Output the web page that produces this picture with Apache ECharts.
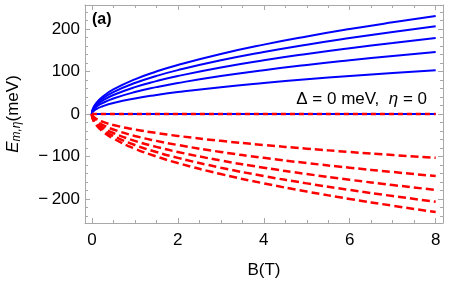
<!DOCTYPE html>
<html><head><meta charset="utf-8">
<script src="https://cdn.jsdelivr.net/npm/echarts@6/dist/echarts.min.js"></script>
<style>html,body{margin:0;padding:0;background:#fff}#c{width:450px;height:284px}</style>
</head><body><div id="c"></div>
<script>
// Data
const B = [0, 0.02, 0.1, 0.25, 0.5, 1, 1.5, 2, 3, 4, 5, 6, 7, 8];
const E1 = [0, 5, 11.5, 18.2, 25.8, 36.4, 44.6, 51.5, 63.1, 72.8, 81.4, 89.2, 96.3, 103];
const E2 = [0, 7.3, 16.3, 25.7, 36.4, 51.5, 63.1, 72.8, 89.2, 103, 115.2, 126.1, 136.2, 145.7];
const E3 = [0, 8.9, 19.9, 31.5, 44.6, 63.1, 77.2, 89.2, 109.2, 126.1, 141, 154.5, 166.8, 178.4];
const E4 = [0, 10.3, 23, 36.4, 51.5, 72.8, 89.2, 103, 126.1, 145.7, 162.9, 178.4, 192.7, 206];
const E5 = [0, 11.5, 25.7, 40.7, 57.6, 81.4, 99.7, 115.2, 141, 162.9, 182.1, 199.5, 215.4, 230.3];
const negE1 = [0, -5, -11.5, -18.2, -25.8, -36.4, -44.6, -51.5, -63.1, -72.8, -81.4, -89.2, -96.3, -103];
const negE2 = [0, -7.3, -16.3, -25.7, -36.4, -51.5, -63.1, -72.8, -89.2, -103, -115.2, -126.1, -136.2, -145.7];
const negE3 = [0, -8.9, -19.9, -31.5, -44.6, -63.1, -77.2, -89.2, -109.2, -126.1, -141, -154.5, -166.8, -178.4];
const negE4 = [0, -10.3, -23, -36.4, -51.5, -72.8, -89.2, -103, -126.1, -145.7, -162.9, -178.4, -192.7, -206];
const negE5 = [0, -11.5, -25.7, -40.7, -57.6, -81.4, -99.7, -115.2, -141, -162.9, -182.1, -199.5, -215.4, -230.3];
const zeroB = [0, 8];
const zeroE = [0, 0];
const xMajor = [0, 2, 4, 6, 8];
const xMinor = [0.5, 1, 1.5, 2.5, 3, 3.5, 4.5, 5, 5.5, 6.5, 7, 7.5];
const yMajor = [-200, -100, 0, 100, 200];
const yMinor = [-240, -220, -180, -160, -140, -120, -80, -60, -40, -20, 20, 40, 60, 80, 120, 140, 160, 180, 220, 240];

const frame = '#a8a8a8';
const X_MIN = -0.16, X_MAX = 8.17, Y_MIN = -256, Y_MAX = 256;
const font = 'Liberation Sans, Arial, sans-serif';
const FS = 17;

function xAx(pos, ticks, len, labels, line) {
  return {
    type: 'value', position: pos, min: X_MIN, max: X_MAX,
    axisLine: {show: line, onZero: false, lineStyle: {color: frame, width: 1}},
    axisTick: {show: true, inside: true, length: len, customValues: ticks, lineStyle: {color: frame}},
    axisLabel: labels ? {show: true, customValues: ticks, color: '#000', fontSize: FS, fontFamily: font, margin: 9} : {show: false},
    splitLine: {show: false}
  };
}
function yAx(pos, ticks, len, labels, line) {
  return {
    type: 'value', position: pos, min: Y_MIN, max: Y_MAX,
    axisLine: {show: line, onZero: false, lineStyle: {color: frame, width: 1}},
    axisTick: {show: true, inside: true, length: len, customValues: ticks, lineStyle: {color: frame}},
    axisLabel: labels ? {show: true, customValues: ticks, color: '#000', fontSize: FS, fontFamily: font, margin: 5,
      formatter: v => (v < 0 ? '\u2212\u2009' + (-v) : '' + v)} : {show: false},
    splitLine: {show: false}
  };
}
const xs = [xAx('bottom', xMajor, 5, true, true), xAx('bottom', xMinor, 3, false, false),
            xAx('top', xMajor, 5, false, true), xAx('top', xMinor, 3, false, false)];
xs[0].name = 'B(T)'; xs[0].nameLocation = 'middle'; xs[0].nameGap = 39;
xs[0].nameTextStyle = {color: '#000', fontSize: FS, fontFamily: font};
const ys = [yAx('left', yMajor, 5, true, true), yAx('left', yMinor, 3, false, false),
            yAx('right', yMajor, 5, false, true), yAx('right', yMinor, 3, false, false)];

function pairs(ys_) { return B.map((b, i) => [b, ys_[i]]); }
const series = [];
[E1, E2, E3, E4, E5].forEach(arr => series.push({
  type: 'line', data: pairs(arr), smooth: true, showSymbol: false, symbol: 'none',
  lineStyle: {color: '#0000ff', width: 2}, z: 3
}));
series.push({type: 'line', data: zeroB.map((b, i) => [b, zeroE[i]]), showSymbol: false, symbol: 'none',
  lineStyle: {color: '#0000ff', width: 2}, z: 3});
[negE1, negE2, negE3, negE4, negE5].forEach(arr => series.push({
  type: 'line', data: pairs(arr), smooth: true, showSymbol: false, symbol: 'none',
  lineStyle: {color: '#ff0000', width: 2.5, type: [8, 4]}, z: 4
}));
series.push({type: 'line', data: zeroB.map((b, i) => [b, zeroE[i]]), showSymbol: false, symbol: 'none',
  lineStyle: {color: '#ff0000', width: 2.5, type: [5, 4]}, z: 4});

const chart = echarts.init(document.getElementById('c'), null, {renderer: 'canvas'});
chart.setOption({
  animation: false,
  grid: {left: 85, top: 5, right: 7, bottom: 57, containLabel: false},
  xAxis: xs, yAxis: ys,
  series: series,
  graphic: [
    {type: 'text', left: 92, top: 12, style: {text: '(a)', font: 'bold 16px ' + font, fill: '#000'}},
    {type: 'text', right: 23, top: 91, style: {
      text: '{n|\u0394 = 0 meV,  }{i|\u03b7}{n| = 0}',
      rich: {n: {fontSize: FS, fontFamily: font, fill: '#000'}, i: {fontSize: FS, fontFamily: font, fontStyle: 'italic', fill: '#000'}}
    }},
    {type: 'text', x: 13, y: 114, rotation: Math.PI / 2, style: {
      text: '{e|E}{s|m,\u03b7}{n|(meV)}', align: 'center', verticalAlign: 'middle',
      rich: {e: {fontSize: FS, fontFamily: font, fontStyle: 'italic', fill: '#000', verticalAlign: 'middle', lineHeight: 19},
             s: {fontSize: 12, fontFamily: font, fontStyle: 'italic', fill: '#000', verticalAlign: 'bottom', lineHeight: 19, padding: [6, 0, 0, 0]},
             n: {fontSize: FS, fontFamily: font, fill: '#000', verticalAlign: 'middle', lineHeight: 19}}
    }}
  ]
});
</script></body></html>
